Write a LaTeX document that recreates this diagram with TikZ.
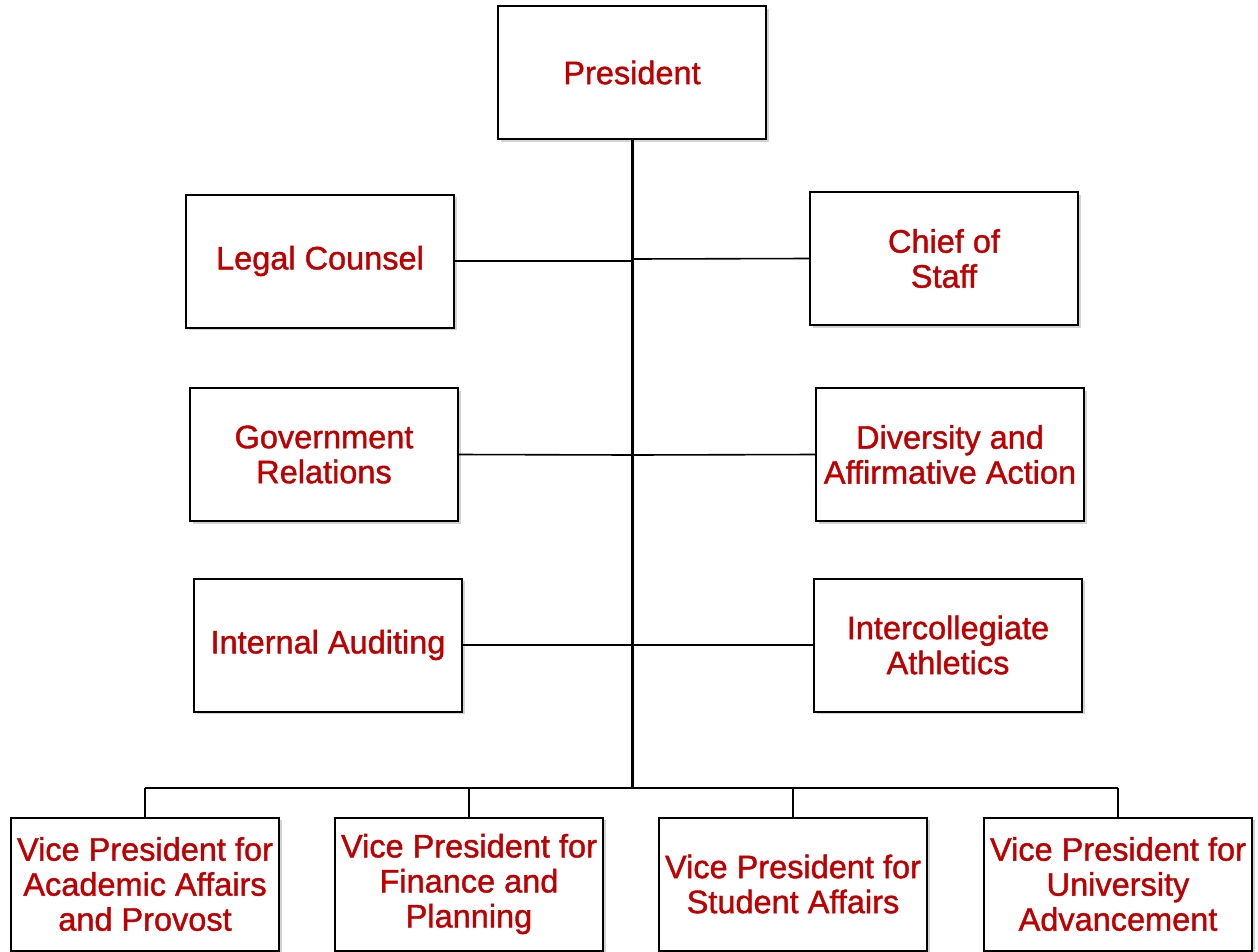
\documentclass[tikz,border=0pt]{standalone}
\usepackage{fontspec}
\setmainfont{Liberation Sans}[FakeBold=1.2]
\newfontfamily\lblfont{Liberation Sans}[FakeBold=1.2]
\usetikzlibrary{shadows}
\definecolor{lbl}{HTML}{C00000}
\tikzset{
  box/.style={draw=black, line width=2pt, fill=white, minimum width=268pt, minimum height=133pt,
    inner sep=0pt, align=center, text=lbl,
    font=\lblfont\fontsize{32.5}{35}\selectfont,
    drop shadow={opacity=0.35, shadow xshift=2.5pt, shadow yshift=-2.5pt}},
  link/.style={draw=black, line width=1.6pt},
  trunk/.style={draw=black, line width=3pt}
}
\begin{document}
\begin{tikzpicture}[x=1pt,y=-1pt]
\useasboundingbox (0,0) rectangle (1258,951);
% trunk and bus
\coordinate (tb) at (632,788);
\coordinate (b1) at (145,788);
\coordinate (b4) at (1118,788);
\coordinate (j1) at (632,261);
\coordinate (j2) at (632,259);
\coordinate (j3) at (632,455);
\coordinate (j4) at (632,645);
% nodes
\node[box] (pres) at (632,72.5) {President};
\node[box] (legal) at (320,261) {Legal Counsel};
\node[box] (chief) at (944,258.5) {Chief of\\Staff};
\node[box] (gov) at (324,454.5) {Government\\Relations};
\node[box] (div) at (950,454.5) {Diversity and\\Affirmative Action};
\node[box] (aud) at (328,645) {Internal Auditing};
\node[box] (ath) at (948,645) {Intercollegiate\\Athletics};
\node[box] (vp1) at (145,884) {Vice President for\\Academic Affairs\\and Provost};
\node[box] (vp2) at (469,884) {Vice President for\\Finance and\\Planning};
\node[box] (vp3) at (793,884) {Vice President for\\Student Affairs};
\node[box] (vp4) at (1118,884) {Vice President for\\University\\Advancement};
% connectors
\draw[link] (legal.east) -- (j1);
\draw[link] (j2) -- (chief.west);
\draw[link] (gov.east) -- (j3);
\draw[link] (j3) -- (div.west);
\draw[link] (aud.east) -- (j4);
\draw[link] (j4) -- (ath.west);
\draw[link] (b1) -- (b4);
\draw[link] (b1) -- (vp1.north);
\draw[link] (vp2.north |- tb) -- (vp2.north);
\draw[link] (vp3.north |- tb) -- (vp3.north);
\draw[link] (b4) -- (vp4.north);
\draw[trunk, drop shadow={opacity=0.35, shadow xshift=2.5pt, shadow yshift=-1pt}] (pres.south) -- (tb);
\end{tikzpicture}
\end{document}
